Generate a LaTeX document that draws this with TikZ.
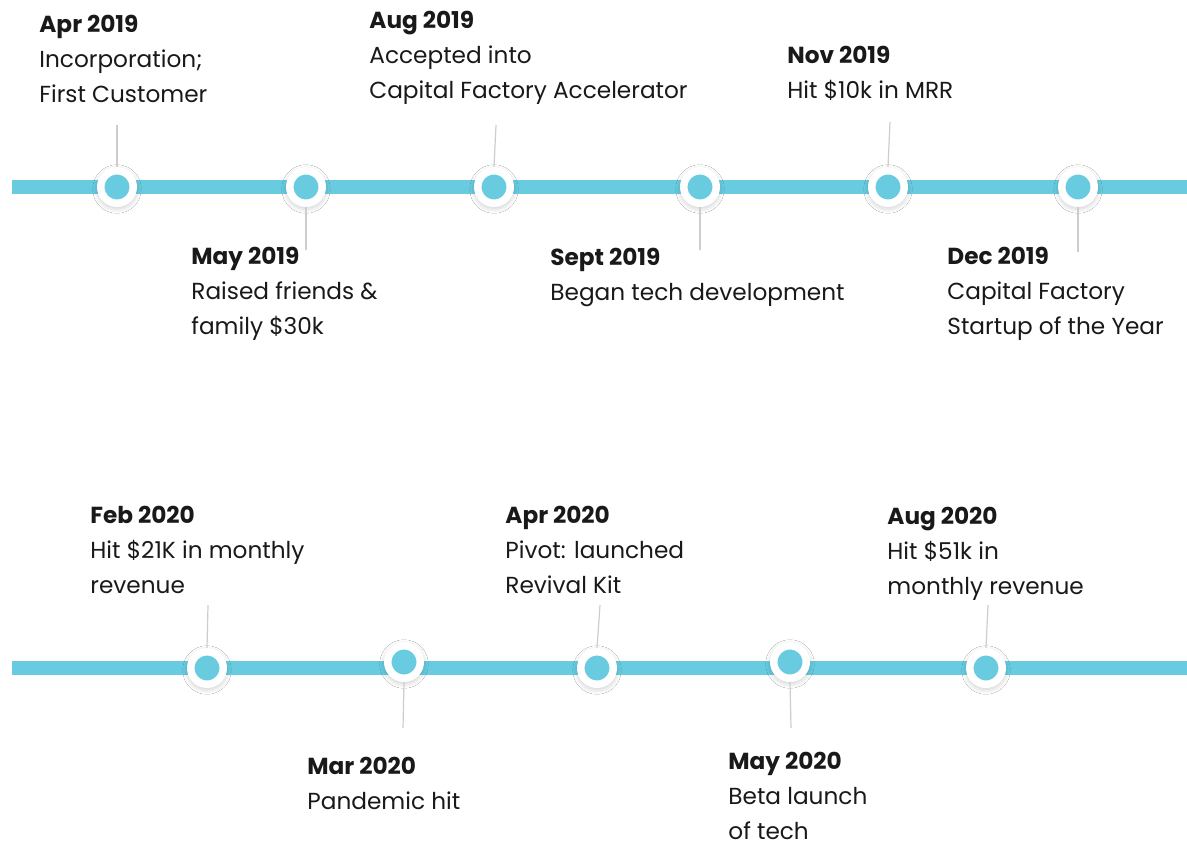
\documentclass[tikz,border=0pt]{standalone}
\usepackage{fontspec}
\setmainfont{Poppins}
\usetikzlibrary{shadows.blur}
\definecolor{tlblue}{RGB}{104,203,224}
\definecolor{tlgray}{RGB}{205,205,205}
\definecolor{tltext}{RGB}{25,25,25}
\tikzset{
  dot/.style={circle, inner sep=0pt, minimum size=16.25pt, fill=tlblue, draw=white, line width=3.75pt,
    blur shadow={shadow xshift=0pt, shadow yshift=-1pt, shadow blur radius=4pt, shadow opacity=35, shadow blur steps=12}},
  conn/.style={draw=tlgray, line width=0.6pt},
  bar/.style={draw=tlblue, line width=7pt},
  evt/.style={anchor=base west, align=left, inner sep=0pt, text=tltext,
    font=\fontsize{11.6}{17.5}\selectfont}
}
\begin{document}
\begin{tikzpicture}[x=0.5pt,y=-0.5pt]
\useasboundingbox[fill=white] (0,0) rectangle (1187,846);
% timelines
\coordinate (La) at (12,187);
\coordinate (Lb) at (1187,187);
\draw[bar] (La) -- (Lb);
\coordinate (Ma) at (12,668);
\coordinate (Mb) at (1187,668);
\draw[bar] (Ma) -- (Mb);

\coordinate (t1) at (117,125);
\coordinate (t2) at (306,250);
\coordinate (t3) at (496,125);
\coordinate (t4) at (700,250);
\coordinate (t5) at (890,122);
\coordinate (t6) at (1078,252);
\coordinate (u1) at (208,605);
\coordinate (u2) at (403,728);
\coordinate (u3) at (600,605);
\coordinate (u4) at (791,728);
\coordinate (u5) at (988,605);

\node[dot] (c1) at (117,187) {};
\node[dot] (c2) at (306,187) {};
\node[dot] (c3) at (494,187) {};
\node[dot] (c4) at (700,187) {};
\node[dot] (c5) at (888,187) {};
\node[dot] (c6) at (1078,187) {};

\node[dot] (d1) at (207,668) {};
\node[dot] (d2) at (404,662) {};
\node[dot] (d3) at (597,668) {};
\node[dot] (d4) at (790,662) {};
\node[dot] (d5) at (986,668) {};

\draw[conn] (c1.north) -- (t1);
\draw[conn] (c2.south) -- (t2);
\draw[conn] (c3.north) -- (t3);
\draw[conn] (c4.south) -- (t4);
\draw[conn] (c5.north) -- (t5);
\draw[conn] (c6.south) -- (t6);
\draw[conn] (d1.north) -- (u1);
\draw[conn] (d2.south) -- (u2);
\draw[conn] (d3.north) -- (u3);
\draw[conn] (d4.south) -- (u4);
\draw[conn] (d5.north) -- (u5);

% texts 2019 (anchored at baseline of last line)
\node[evt] (e1) at (39,102) {\textbf{Apr 2019}\\Incorporation;\\First Customer};
\node[evt] (e2) at (191,334) {\textbf{May 2019}\\Raised friends \&\\family \$30k};
\node[evt] (e3) at (369,98) {\textbf{Aug 2019}\\Accepted into\\Capital Factory Accelerator};
\node[evt] (e4) at (550,300) {\textbf{Sept 2019}\\Began tech development};
\node[evt] (e5) at (787,98) {\textbf{Nov 2019}\\Hit \$10k in MRR};
\node[evt] (e6) at (947,334) {\textbf{Dec 2019}\\Capital Factory\\Startup of the Year};
% texts 2020
\node[evt] (f1) at (90,593) {\textbf{Feb 2020}\\Hit \$21K in monthly\\revenue};
\node[evt] (f2) at (307,809) {\textbf{Mar 2020}\\Pandemic hit};
\node[evt] (f3) at (505,593) {\textbf{Apr 2020}\\Pivot: launched\\Revival Kit};
\node[evt] (f4) at (728,839) {\textbf{May 2020}\\Beta launch\\of tech};
\node[evt] (f5) at (887,594) {\textbf{Aug 2020}\\Hit \$51k in\\monthly revenue};
\end{tikzpicture}
\end{document}
